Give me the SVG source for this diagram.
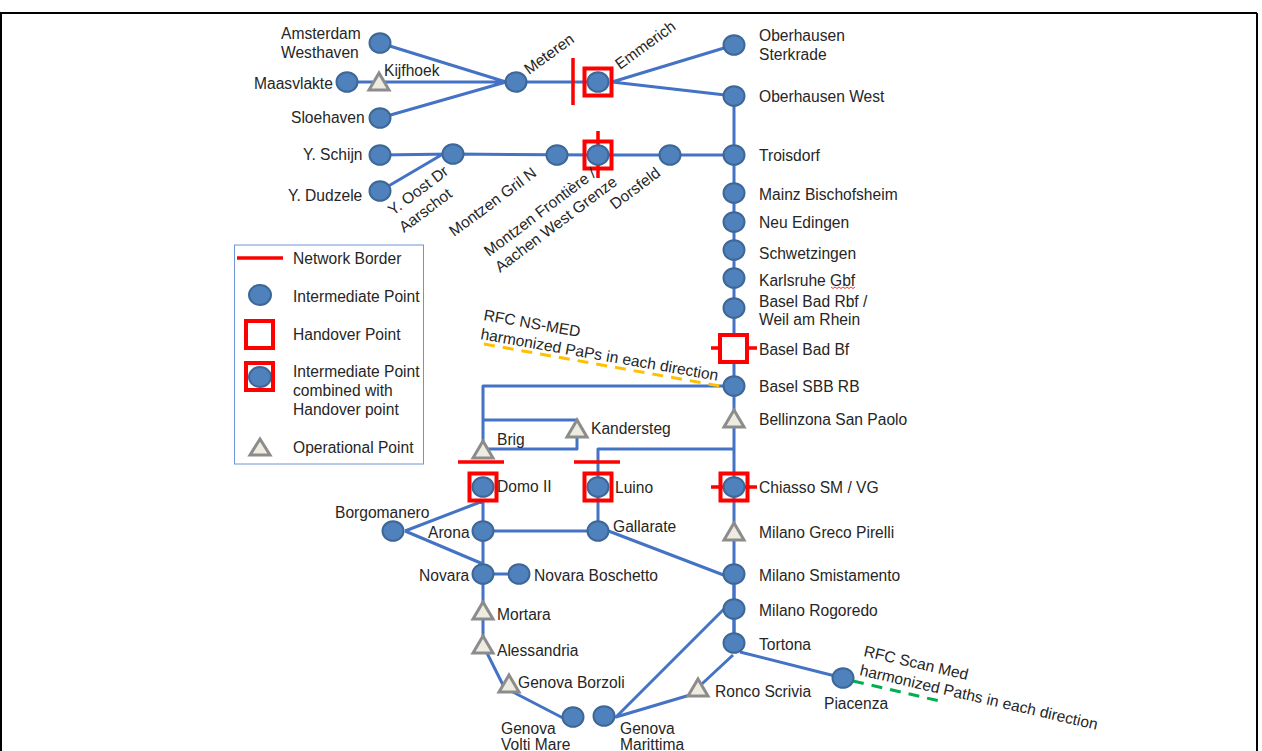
<svg xmlns="http://www.w3.org/2000/svg" width="1262" height="751" viewBox="0 0 1262 751">
<defs>
<style>
text{font-family:"Liberation Sans",Arial,sans-serif;font-size:15.6px;fill:#262626}
.c{fill:none;stroke:#4472c4;stroke-width:3;stroke-linejoin:round}
.n{fill:#4f81bd;stroke:#3d6797;stroke-width:2}
.t{fill:#eeece1;stroke:#8c8c8c;stroke-width:3}
.h{fill:#fff;fill-opacity:0;stroke:#f00;stroke-width:4}
.hw{fill:#fff;stroke:#f00;stroke-width:4}
.b{fill:none;stroke:#f00;stroke-width:3.5}
</style>
<ellipse id="nd" class="n" cx="0" cy="0" rx="10.5" ry="9.8"/>
<polygon id="tr" class="t" points="0,-10 10,7 -10,7"/>
<rect id="sq" class="h" x="-13.5" y="-13.500" width="27" height="27"/>
</defs>
<g id="frame"><path d="M0 13H1257M1 13V751M1257 13V751" fill="none" stroke="#000" stroke-width="2"/></g>
<g id="connectors">
<path class="c" d="M380 43L506 82M347 82H506M380 118L506 82M380 155L453 154M380 191L443 154M453 154L598 155H734M516 82H598M612 82L734 45M612 82L734 96"/>
<path class="c" d="M734 96V643"/>
<path class="c" d="M734 386H483V450M483 420H577V429M483 449H577V429M598 487V449H734"/>
<path class="c" d="M483 501V645L503 685L509 690L563 718M405 531L483 501M405 531L483 564M483 531H598M598 487V531M598 527L734 579M483 574H519M734 574V643M724 609L616 717L690 695L733 655M740 652L843 678"/>
<path fill="none" stroke="#ffc000" stroke-width="3" stroke-dasharray="11 8" d="M484 344L720 386"/>
<path fill="none" stroke="#00b050" stroke-width="3" stroke-dasharray="11 8" d="M853 681L944 702"/>
<path fill="none" stroke="#f00" stroke-width=".8" d="M831 287l2 1.500 2-1.500 2 1.500 2-1.500 2 1.500 2-1.500 2 1.500 2-1.500 2 1.500 2-1.500 2 1.500 2-1.500"/>
</g>
<g id="borders">
<path class="b" d="M573 58V105M598 131V178M711 348H757M711 487H757M458 462H504M574 462H620"/>
</g>
<g id="n-amsterdam"><use href="#nd" x="380" y="43"/><text x="281" y="39">Amsterdam</text><text x="281" y="58">Westhaven</text></g>
<g id="n-maasvlakte"><use href="#nd" x="347" y="82"/><text x="254" y="89">Maasvlakte</text></g>
<g id="n-kijfhoek"><use href="#tr" x="379" y="83"/><text x="384" y="76">Kijfhoek</text></g>
<g id="n-sloehaven"><use href="#nd" x="380" y="118"/><text x="291" y="123">Sloehaven</text></g>
<g id="n-meteren"><use href="#nd" x="516" y="82"/><text transform="translate(529 75) rotate(-36)">Meteren</text></g>
<g id="n-emmerich"><use href="#nd" x="598" y="82"/><use href="#sq" x="598" y="82"/><text transform="translate(620 70) rotate(-36)">Emmerich</text></g>
<g id="n-sterkrade"><use href="#nd" x="734" y="45"/><text x="759" y="41">Oberhausen</text><text x="759" y="60">Sterkrade</text></g>
<g id="n-oberhausen"><use href="#nd" x="734" y="96"/><text x="759" y="102">Oberhausen West</text></g>
<g id="n-schijn"><use href="#nd" x="380" y="155"/><text x="303" y="160">Y. Schijn</text></g>
<g id="n-dudzele"><use href="#nd" x="380" y="191"/><text x="288" y="201">Y. Dudzele</text></g>
<g id="n-aarschot"><use href="#nd" x="453" y="154"/><text transform="translate(393 216) rotate(-37)">Y. Oost Dr</text><text transform="translate(404 233) rotate(-37)">Aarschot</text></g>
<g id="n-gril"><use href="#nd" x="557" y="155"/><text transform="translate(454 237) rotate(-36.500)">Montzen Gril N</text></g>
<g id="n-frontiere"><use href="#nd" x="598" y="155"/><use href="#sq" x="598" y="155"/><text transform="translate(489 257) rotate(-37)">Montzen Frontière /</text><text transform="translate(500 273) rotate(-37)">Aachen West Grenze</text></g>
<g id="n-dorsfeld"><use href="#nd" x="670" y="155"/><text transform="translate(615 210) rotate(-37)">Dorsfeld</text></g>
<g id="n-troisdorf"><use href="#nd" x="734" y="155"/><text x="759" y="161">Troisdorf</text></g>
<g id="n-mainz"><use href="#nd" x="734" y="193"/><text x="759" y="200">Mainz Bischofsheim</text></g>
<g id="n-edingen"><use href="#nd" x="734" y="222"/><text x="759" y="228">Neu Edingen</text></g>
<g id="n-schwetzingen"><use href="#nd" x="734" y="250"/><text x="759" y="259">Schwetzingen</text></g>
<g id="n-karlsruhe"><use href="#nd" x="734" y="278"/><text x="759" y="286">Karlsruhe Gbf</text></g>
<g id="n-rbf"><use href="#nd" x="734" y="308"/><text x="759" y="307">Basel Bad Rbf /</text><text x="759" y="325">Weil am Rhein</text></g>
<g id="n-badbf"><rect class="hw" x="720" y="335" width="27" height="27"/><text x="759" y="355">Basel Bad Bf</text></g>
<g id="n-sbb"><use href="#nd" x="734" y="386"/><text x="759" y="392">Basel SBB RB</text></g>
<g id="n-bellinzona"><use href="#tr" x="734" y="420"/><text x="759" y="425">Bellinzona San Paolo</text></g>
<g id="n-chiasso"><use href="#nd" x="734" y="487"/><use href="#sq" x="734" y="487"/><text x="759" y="493">Chiasso SM / VG</text></g>
<g id="n-greco"><use href="#tr" x="734" y="533"/><text x="759" y="538">Milano Greco Pirelli</text></g>
<g id="n-smistamento"><use href="#nd" x="734" y="574"/><text x="759" y="581">Milano Smistamento</text></g>
<g id="n-rogoredo"><use href="#nd" x="734" y="609"/><text x="759" y="616">Milano Rogoredo</text></g>
<g id="n-tortona"><use href="#nd" x="734" y="643"/><text x="759" y="650">Tortona</text></g>
<g id="n-piacenza"><use href="#nd" x="843" y="678"/><text x="824" y="709">Piacenza</text></g>
<g id="n-ronco"><use href="#tr" x="698" y="689"/><text x="715" y="697">Ronco Scrivia</text></g>
<g id="n-marittima"><use href="#nd" x="604" y="716"/><text x="620" y="734">Genova</text><text x="620" y="750">Marittima</text></g>
<g id="n-volti"><use href="#nd" x="573" y="717"/><text x="501" y="734">Genova</text><text x="501" y="750">Volti Mare</text></g>
<g id="n-borzoli"><use href="#tr" x="509" y="685"/><text x="518" y="688">Genova Borzoli</text></g>
<g id="n-alessandria"><use href="#tr" x="483" y="646"/><text x="497" y="656">Alessandria</text></g>
<g id="n-mortara"><use href="#tr" x="483" y="612"/><text x="497" y="620">Mortara</text></g>
<g id="n-novara"><use href="#nd" x="483" y="574"/><text x="419" y="581">Novara</text></g>
<g id="n-boschetto"><use href="#nd" x="519" y="574"/><text x="534" y="581">Novara Boschetto</text></g>
<g id="n-arona"><use href="#nd" x="483" y="531"/><text x="428" y="538">Arona</text></g>
<g id="n-gallarate"><use href="#nd" x="598" y="531"/><text x="613" y="532">Gallarate</text></g>
<g id="n-borgomanero"><use href="#nd" x="393" y="531"/><text x="335" y="518">Borgomanero</text></g>
<g id="n-domo"><use href="#nd" x="483" y="487"/><use href="#sq" x="483" y="487"/><text x="497" y="492">Domo II</text></g>
<g id="n-luino"><use href="#nd" x="598" y="487"/><use href="#sq" x="598" y="487"/><text x="615" y="493">Luino</text></g>
<g id="n-brig"><use href="#tr" x="483" y="451"/><text x="497" y="445">Brig</text></g>
<g id="n-kandersteg"><use href="#tr" x="577" y="430"/><text x="591" y="434">Kandersteg</text></g>
<g id="notes">
<text transform="translate(483 320) rotate(10)">RFC NS-MED</text>
<text transform="translate(480 339) rotate(10)">harmonized PaPs in each direction</text>
<text transform="translate(863 656) rotate(13)">RFC Scan Med</text>
<text transform="translate(859 675) rotate(13)">harmonized Paths in each direction</text>
</g>
<g id="legend">
<rect x="234.500" y="245" width="189" height="219" fill="none" stroke="#6f94d6" stroke-width="1"/>
<path class="b" d="M237 258H283"/><text x="293" y="264">Network Border</text>
<ellipse class="n" cx="260" cy="295" rx="11" ry="10"/><text x="293" y="302">Intermediate Point</text>
<rect class="h" x="246" y="321" width="27" height="27"/><text x="293" y="340">Handover Point</text>
<ellipse class="n" cx="260" cy="377" rx="11" ry="10"/><rect class="h" x="246" y="363" width="27" height="27"/>
<text x="293" y="377">Intermediate Point</text><text x="293" y="396">combined with</text><text x="293" y="415">Handover point</text>
<polygon class="t" points="260,439 270,455 250,455"/><text x="293" y="453">Operational Point</text>
</g>
</svg>
